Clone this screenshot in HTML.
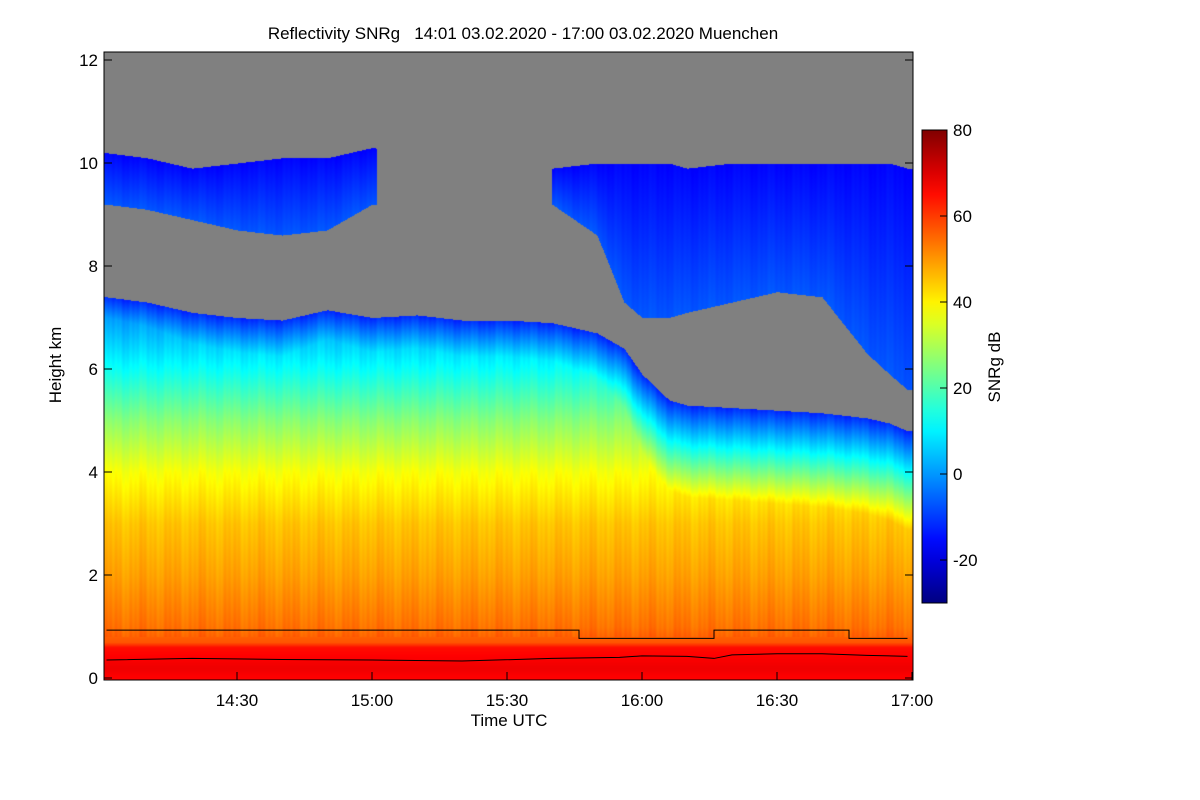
<!DOCTYPE html>
<html><head><meta charset="utf-8">
<style>
body{margin:0;background:#fff;width:1200px;height:800px;overflow:hidden;font-family:"Liberation Sans",sans-serif;}
#wrap{position:relative;width:1200px;height:800px;}
canvas{position:absolute;}
</style></head><body>
<div id="wrap">
<canvas id="hm" width="809" height="628" style="left:104px;top:52px"></canvas>
<svg id="ov" width="1200" height="800" style="position:absolute;left:0;top:0"></svg>
</div>
<script>
// ---- data ----
const timesMin = [1,10,20,30,40,50,60,70,80,90,100,110,116,120,126,130,140,150,160,170,175,179]; // minutes after 14:00
const lowCloudTop = [7.4,7.3,7.1,7.0,6.95,7.15,7.0,7.05,6.95,6.95,6.9,6.7,6.4,5.9,5.4,5.3,5.25,5.2,5.15,5.05,4.95,4.8]; // km
const upperTop = [10.2,10.1,9.9,10.0,10.1,10.1,10.3,10.2,10.0,9.9,9.9,10.0,10.0,10.0,10.0,9.9,10.0,10.0,10.0,10.0,10.0,9.9];
const upperBase = [9.2,9.1,8.9,8.7,8.6,8.7,9.2,9.2,9.2,9.2,9.2,8.6,7.3,7.0,7.0,7.1,7.3,7.5,7.4,6.3,5.9,5.6];
const profH = [0,0.2,0.6,0.7,1.0,2.0,3.0,4.0,5.0,6.0,7.0,7.5];
const profV = [66,68,65,57,54,49,45,38,26,12,0,-5];
const lineStepT = [1,106,106,136,136,166,166,179];
const lineStepH = [0.93,0.93,0.77,0.77,0.93,0.93,0.77,0.77];
const lineLowT = [1,20,40,60,80,100,115,120,130,136,140,150,160,170,179];
const lineLowH = [0.35,0.38,0.36,0.35,0.33,0.38,0.4,0.43,0.42,0.38,0.45,0.47,0.47,0.44,0.42];
const yTicks = [0,2,4,6,8,10,12];
const xTicks = [30,60,90,120,150,180];
const xTickLabels = ["14:30","15:00","15:30","16:00","16:30","17:00"];
const cbTicks = [-20,0,20,40,60,80];

// ---- axes ----
const X0=104,X1=913,Y0=52,Y1=680;
const xs = m => 106.5 + (m-1)*4.5;
const ys = h => 678 - h*51.5;
const cbY = v => 474 - v*4.3;
function interp(xa,ya,x){ if(x<=xa[0])return ya[0]; for(let i=1;i<xa.length;i++){ if(x<=xa[i]){const f=(x-xa[i-1])/(xa[i]-xa[i-1]);return ya[i-1]+f*(ya[i]-ya[i-1]);}} return ya[ya.length-1];}
function jet(v){ let t=(v+30)/110; t=Math.max(0,Math.min(1,t));
  const c=x=>Math.max(0,Math.min(1,x));
  return [c(1.5-Math.abs(4*t-3))*255, c(1.5-Math.abs(4*t-2))*255, c(1.5-Math.abs(4*t-1))*255];}

// ---- heatmap ----
const cv=document.getElementById('hm'),ctx=cv.getContext('2d');
const img=ctx.createImageData(809,628);
for(let px=0;px<809;px++){
  const m=(px+X0-106.5)/4.5+1;
  const top=interp(timesMin,lowCloudTop,m);
  const ut=interp(timesMin,upperTop,m), ub=interp(timesMin,upperBase,m);
  const gap = m>61 && m<100;
  const tex = 1.2*Math.sin(px*0.9)*Math.sin(px*0.37+1.3)+0.8*Math.sin(px*0.21);
  for(let py=0;py<628;py++){
    const h=(678-(py+Y0))/51.5;
    let col;
    if(h<top){
      let v=Math.min(interp(profH,profV,h), -12+30*(top-h));
      v+= h>0.8 ? tex : 0;
      col=jet(v);
    } else if(!gap && h>ub && h<ut){
      col=jet(-16+9*(ut-h)/Math.max(0.3,ut-ub)+tex*0.5);
    } else col=[128,128,128];
    const i=(py*809+px)*4; img.data[i]=col[0];img.data[i+1]=col[1];img.data[i+2]=col[2];img.data[i+3]=255;
  }
}
ctx.putImageData(img,0,0);

// ---- overlay ----
const NS="http://www.w3.org/2000/svg", ov=document.getElementById('ov');
function mk(tag,attrs,txt){const e=document.createElementNS(NS,tag);for(const k in attrs)e.setAttribute(k,attrs[k]);if(txt!==undefined)e.textContent=txt;ov.appendChild(e);return e;}
let d=lineStepT.map((t,i)=>(i?'L':'M')+xs(t)+','+ys(lineStepH[i])).join('');
let e=mk('path',{d:d,fill:'none',stroke:'#000','stroke-width':1});


d=lineLowT.map((t,i)=>(i?'L':'M')+xs(t)+','+ys(lineLowH[i])).join('');
e=mk('path',{d:d,fill:'none',stroke:'#000','stroke-width':1});


e=mk('rect',{x:X0,y:Y0,width:X1-X0,height:Y1-Y0,fill:'none',stroke:'#000','stroke-width':1});


const tf={'font-family':'Liberation Sans, sans-serif','font-size':17,fill:'#000'};
yTicks.forEach(v=>{
  mk('line',{x1:X0,x2:X0+8,y1:ys(v),y2:ys(v),stroke:'#000'});
  mk('line',{x1:X1,x2:X1-8,y1:ys(v),y2:ys(v),stroke:'#000'});
  const t=mk('text',Object.assign({x:98,y:ys(v)+6,'text-anchor':'end'},tf),String(v));
  
  
});
xTicks.forEach((m,i)=>{
  mk('line',{x1:xs(m),x2:xs(m),y1:Y1,y2:Y1-8,stroke:'#000'});
  const t=mk('text',Object.assign({x:xs(m),y:706,'text-anchor':'middle'},tf),xTickLabels[i]);
  
  
});
e=mk('text',Object.assign({x:509,y:726,'text-anchor':'middle'},tf),'Time UTC');


e=mk('text',Object.assign({x:0,y:0,'text-anchor':'middle',transform:'translate(61,365) rotate(-90)'},tf),'Height km');


e=mk('text',Object.assign({x:523,y:39,'text-anchor':'middle',style:'white-space:pre'},tf),'Reflectivity SNRg   14:01 03.02.2020 - 17:00 03.02.2020 Muenchen');


const g=mk('defs',{});
const lg=document.createElementNS(NS,'linearGradient');lg.setAttribute('id','cbg');lg.setAttribute('x1','0');lg.setAttribute('y1','1');lg.setAttribute('x2','0');lg.setAttribute('y2','0');
for(let k=0;k<=22;k++){const v=-30+k*5,c=jet(v);const s=document.createElementNS(NS,'stop');s.setAttribute('offset',k/22);s.setAttribute('stop-color','rgb('+c.map(Math.round).join(',')+')');lg.appendChild(s);}
g.appendChild(lg);
e=mk('rect',{x:922,y:cbY(80),width:25,height:cbY(-30)-cbY(80),fill:'url(#cbg)',stroke:'#000'});


cbTicks.forEach(v=>{
  mk('line',{x1:940,x2:947,y1:cbY(v),y2:cbY(v),stroke:'#000'});
  const t=mk('text',Object.assign({x:953,y:cbY(v)+6},tf),String(v));
  
  
});
e=mk('text',Object.assign({x:0,y:0,'text-anchor':'middle',transform:'translate(1000,367) rotate(-90)'},tf),'SNRg dB');


</script>
</body></html>
